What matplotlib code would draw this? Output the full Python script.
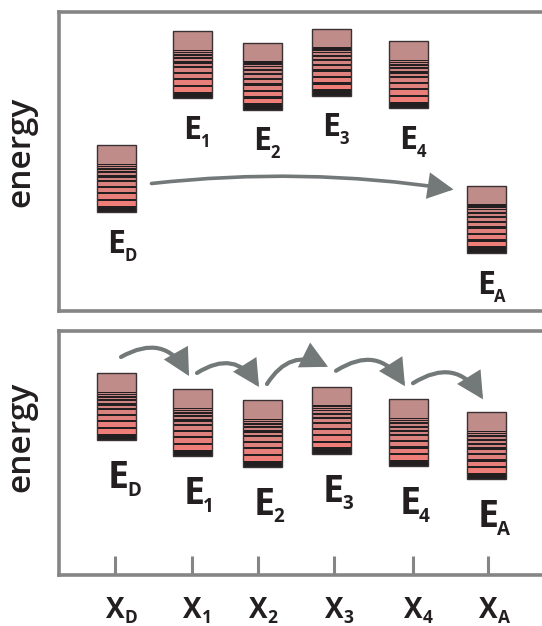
import matplotlib
matplotlib.use('Agg')
import matplotlib.pyplot as plt
from matplotlib.patches import Rectangle, FancyArrowPatch, ArrowStyle
from matplotlib.transforms import offset_copy

plt.rcParams['font.family'] = ['Open Sans', 'DejaVu Sans']

# sites along the chain
sites = ['D', '1', '2', '3', '4', 'A']
site_x = [115, 192, 258, 334, 413, 488]      # tick positions on the x axis
box_x = [116, 192, 262, 331, 408, 486]       # centres of the level stacks

# energies of the stacks (centre height above the panel floor)
energy_top = [132.5, 246.5, 235, 249, 236.5, 92]
energy_bot = [168.5, 152.5, 141.5, 154.7, 142.3, 129.2]

W, H = 542, 626
BOX_W, BOX_H = 39, 67
gray = '#858585'
arrow_c = '#737878'
ink = '#231f20'

fig = plt.figure(figsize=(W / 100, H / 100), dpi=100)

# panels in pixel-like data units
ax1 = fig.add_axes([59 / W, (H - 311) / H, (W - 59) / W, 299 / H])
ax1.set_xlim(59, W)
ax1.set_ylim(0, 299)
ax2 = fig.add_axes([59 / W, (H - 575) / H, (W - 59) / W, 244 / H])
ax2.set_xlim(59, W)
ax2.set_ylim(0, 244)

for ax in (ax1, ax2):
    ax.spines['right'].set_visible(False)
    for s in ('left', 'top', 'bottom'):
        ax.spines[s].set_color(gray)
        ax.spines[s].set_linewidth(2.6)
    ax.set_yticks([])
    ax.patch.set_alpha(0)

ax1.set_xticks([])
ax2.set_xticks(site_x)
ax2.tick_params(axis='x', direction='in', length=13.7, width=2.2, color=gray,
                labelbottom=False)

# level stack drawing
top_frac = 0.28
lines = [0.29, 0.322, 0.355, 0.41, 0.47, 0.54, 0.625, 0.72, 0.82]
widths = [1.5, 1.2, 1.5, 2.0, 2.1, 2.2, 2.3, 2.3, 2.3]
band_frac = 0.905
c_top = (0.76, 0.53, 0.52)
c_bot = (0.95, 0.49, 0.47)


def draw_box(ax, xc, yc):
    x0 = xc - BOX_W / 2
    ytop = yc + BOX_H / 2

    def fy(f):
        return ytop - BOX_H * f

    ax.add_patch(Rectangle((x0, fy(top_frac)), BOX_W, BOX_H * top_frac,
                           facecolor='#c08c8a', edgecolor='none', zorder=2))
    edges = [top_frac] + lines + [band_frac]
    for a, b in zip(edges[:-1], edges[1:]):
        t = ((a + b) / 2 - top_frac) / (band_frac - top_frac)
        col = tuple(c_top[i] + (c_bot[i] - c_top[i]) * t for i in range(3))
        ax.add_patch(Rectangle((x0, fy(b)), BOX_W, BOX_H * (b - a),
                               facecolor=col, edgecolor='none', zorder=2))
    for f, th in zip(lines, widths):
        ax.add_patch(Rectangle((x0, fy(f) - th / 2), BOX_W, th,
                               facecolor=ink, edgecolor='none', zorder=3))
    ax.add_patch(Rectangle((x0, fy(1.0)), BOX_W, BOX_H * (1 - band_frac),
                           facecolor=ink, edgecolor='none', zorder=3))
    ax.add_patch(Rectangle((x0, fy(1.0)), BOX_W, BOX_H,
                           facecolor='none', edgecolor='#3a3232', lw=1.0, zorder=4))


def label(ax, x, y, main, sub, size, subsize, half_w, drop):
    ax.text(x, y, main, fontsize=size, fontweight='bold', ha='center',
            va='baseline', color=ink, clip_on=False)
    tr = offset_copy(ax.transData, fig=fig, x=half_w + 1.5, y=-drop, units='dots')
    ax.text(x, y, sub, transform=tr, fontsize=subsize, fontweight='bold',
            ha='left', va='baseline', color=ink, clip_on=False)


def arrow(ax, p0, p1, rad, lw):
    ax.add_patch(FancyArrowPatch(
        p0, p1, connectionstyle=f'arc3,rad={rad}',
        arrowstyle=ArrowStyle('-|>', head_length=14.5, head_width=7.5),
        mutation_scale=1, lw=lw, color=arrow_c, shrinkA=0, shrinkB=0,
        zorder=5, joinstyle='miter'))


# top panel: single long hop from donor to acceptor
for xc, e, s in zip(box_x, energy_top, sites):
    draw_box(ax1, xc, e)
    label(ax1, xc, e - BOX_H / 2 - 18 - 23, 'E', s, 23, 12, 7, 8)

arrow(ax1, (box_x[0] + BOX_W / 2 + 16, energy_top[0] - 5),
      (box_x[-1] - BOX_W / 2 - 13, energy_top[-1] + BOX_H / 2 - 4), -0.066, 2.6)

# bottom panel: hop by hop, the arrow ends a little higher when climbing
for xc, e, s in zip(box_x, energy_bot, sites):
    draw_box(ax2, xc, e)
    label(ax2, xc + 2, e - BOX_H / 2 - 21 - 27, 'E', s, 27, 13.5, 7.5, 7.5)

for i in range(len(box_x) - 1):
    p0 = (box_x[i] + 5, energy_bot[i] + BOX_H / 2 + 16)
    climb = energy_bot[i + 1] > energy_bot[i]
    p1 = (box_x[i + 1] - 3, energy_bot[i + 1] + BOX_H / 2 + (20 if climb else 13))
    arrow(ax2, p0, p1, -0.45 if climb else -0.5, 3.0)

# x axis labels
for xs, s in zip(site_x, sites):
    label(ax2, xs, -43, 'X', s, 20, 12.5, 8, 5)

for yc in (151.7, 436.5):
    fig.text(20.5 / W, 1 - yc / H, 'energy', rotation=90, ha='center',
             va='center', fontsize=24, fontweight='semibold', color=ink)

fig.savefig('out.png', dpi=100)
